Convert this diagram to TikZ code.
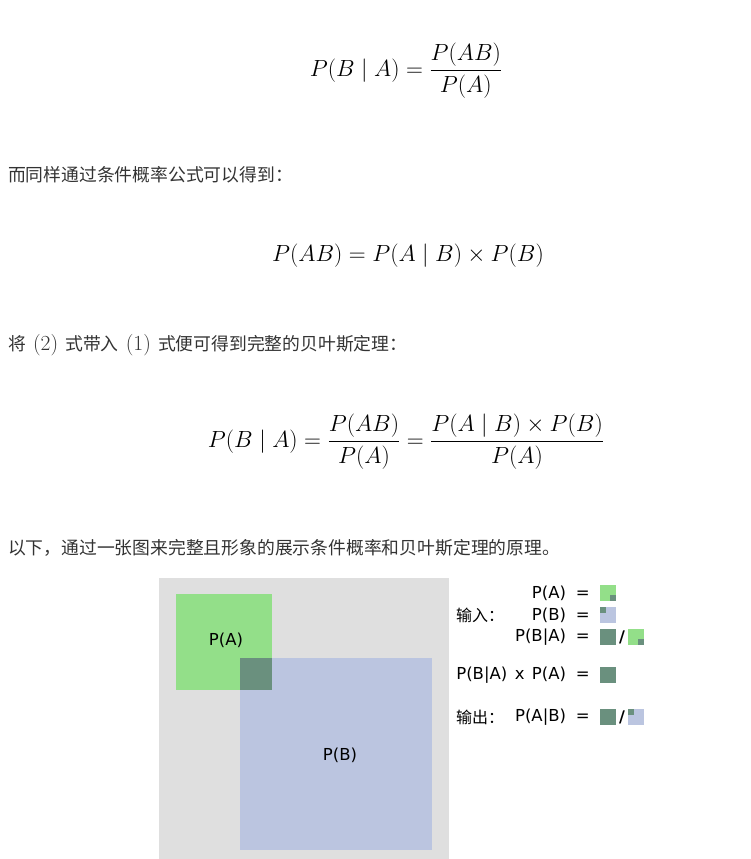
\documentclass[tikz,border=0pt]{standalone}
\usepackage{fix-cm}
\usepackage{amsmath}
\usepackage{fontspec}
\setsansfont{DejaVu Sans}
\newfontfamily\cjk{Noto Sans CJK SC}
\usetikzlibrary{positioning}

\definecolor{bggray}{RGB}{223,223,223}
\definecolor{pagreen}{RGB}{147,223,137}
\definecolor{pbblue}{RGB}{187,197,224}
\definecolor{pboth}{RGB}{106,144,126}
\definecolor{txtgray}{RGB}{51,51,51}

\tikzset{
	formula/.style={inner sep=0pt, font=\fontsize{23.4}{27}\selectfont},
	para/.style={anchor=west, inner sep=0pt, text=txtgray, font=\cjk\fontsize{17.8}{21}\selectfont},
	legend/.style={anchor=east, inner sep=0pt, font=\sffamily\fontsize{16.5}{19}\selectfont},
	cjklabel/.style={anchor=west, inner sep=0pt, font=\cjk\fontsize{16}{19}\selectfont},
	slash/.style={inner sep=0pt, font=\sffamily\bfseries\fontsize{16}{19}\selectfont},
	vennlabel/.style={font=\sffamily\fontsize{16.5}{19}\selectfont},
}

\begin{document}
\begin{tikzpicture}[x=1pt, y=-1pt]
	
	\useasboundingbox (0,0) rectangle (751,859);
	
	% formulas and text
	\node[formula] (f1) at (406,71)  {$P(B\mid A)=\dfrac{P(AB)}{P(A)}$};
	\node[para] (t1) at (8,175)      {而同样通过条件概率公式可以得到：};
	\node[formula] (f2) at (408,256) {$P(AB)=P(A\mid B)\times P(B)$};
	\node[para] (t2) at (8,345)      {将\hspace{0.4em}{\fontsize{21.5}{24}\selectfont$(2)$}\hspace{0.4em}式带入\hspace{0.4em}{\fontsize{21.5}{24}\selectfont$(1)$}\hspace{0.4em}式便可得到完整的贝叶斯定理：};
	\node[formula] (f3) at (406,442) {$P(B\mid A)=\dfrac{P(AB)}{P(A)}=\dfrac{P(A\mid B)\times P(B)}{P(A)}$};
	\node[para] (t3) at (8,548)      {以下，通过一张图来完整且形象的展示条件概率和贝叶斯定理的原理。};
	
	% venn squares
	\fill[bggray] (159,578) rectangle (449,859);
	\fill[pagreen] (176,594) rectangle (272,690);
	\fill[pbblue] (240,658) rectangle (432,850);
	\fill[pboth] (240,658) rectangle (272,690);
	\node[vennlabel] (pa) at (226,640) {P(A)};
	\node[vennlabel] (pb) at (340,755) {P(B)};
	
	% legend
	\node[legend] (la)  at (590,593) {P(A)\hspace{0.6em}=};
	\node[legend] (lb)  at (590,615) {P(B)\hspace{0.6em}=};
	\node[legend] (lba) at (590,637) {P(B|A)\hspace{0.6em}=};
	\node[legend] (lm)  at (590,675) {P(B|A)\hspace{0.45em}x\hspace{0.45em}P(A)\hspace{0.6em}=};
	\node[legend] (lab) at (590,717) {P(A|B)\hspace{0.6em}=};
	\node[cjklabel] (in)  at (456,615) {输入：};
	\node[cjklabel] (out) at (456,717) {输出：};
	
	\fill[pagreen] (600,585) rectangle (616,601);
	\fill[pboth] (610,595) rectangle (616,601);
	\fill[pbblue] (600,607) rectangle (616,623);
	\fill[pboth] (600,607) rectangle (606,613);
	\fill[pboth] (600,629) rectangle (616,645);
	\node[slash] (s1) at (622,637) {/};
	\fill[pagreen] (628,629) rectangle (644,645);
	\fill[pboth] (638,639) rectangle (644,645);
	\fill[pboth] (600,667) rectangle (616,683);
	\fill[pboth] (600,709) rectangle (616,725);
	\node[slash] (s2) at (622,717) {/};
	\fill[pbblue] (628,709) rectangle (644,725);
	\fill[pboth] (628,709) rectangle (634,715);
	
\end{tikzpicture}
\end{document}
